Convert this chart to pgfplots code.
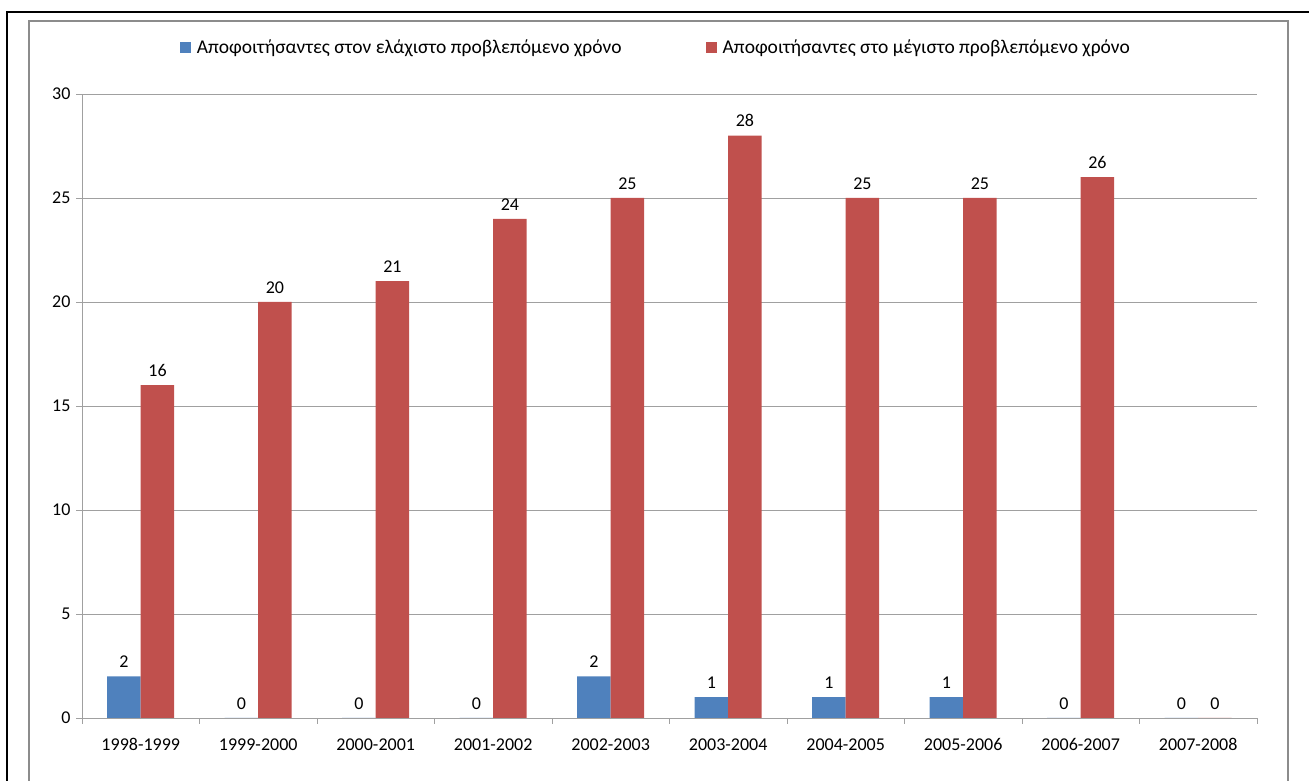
\documentclass[border=0pt]{standalone}
\usepackage{pgfplots}
\pgfplotsset{compat=1.18}
\usepackage{fontspec}
\setmainfont{Carlito}
\definecolor{cblue}{HTML}{4F81BD}
\definecolor{cred}{HTML}{C0504D}
\definecolor{cgrid}{HTML}{A0A0A0}
\definecolor{cframe}{HTML}{8C8C8C}
\begin{document}
\begin{tikzpicture}[font=\fontsize{17.5pt}{21pt}\selectfont]
\path[use as bounding box] (0,0) rectangle (1309pt,781pt);
% outer borders
\draw[black,line width=2.5pt] (7pt,-5pt) -- (7pt,769pt) -- (1315pt,769pt);
\draw[cframe,line width=1.2pt] (29pt,-5pt) -- (29pt,760pt) -- (1288pt,760pt) -- (1288pt,-5pt);
\begin{axis}[
  at={(82pt,63pt)}, anchor=south west,
  scale only axis, width=1175pt, height=624pt,
  ybar=0pt, bar width=33.5pt,
  xmin=-0.5, xmax=9.5, ymin=0, ymax=30,
  ytick={0,5,...,30},
  xtick={0,...,9},
  xticklabels={1998-1999,1999-2000,2000-2001,2001-2002,2002-2003,2003-2004,2004-2005,2005-2006,2006-2007,2007-2008},
  minor xtick={-0.5,0.5,...,9.5},
  major x tick style={draw=none},
  minor x tick style={cgrid, line width=0.8pt},
  tick align=outside,
  minor tick length=6pt, major tick length=6pt,
  y tick style={cgrid, line width=0.8pt},
  ymajorgrids, grid style={cgrid, line width=0.8pt},
  axis x line*=bottom, axis y line*=left,
  axis line style={cgrid, line width=0.8pt, -},
  /pgf/number format/assume math mode=true,
  xticklabel style={yshift=-11pt, font=\fontsize{18pt}{21pt}\selectfont},
  yticklabel style={xshift=-2pt, font=\fontsize{18pt}{21pt}\selectfont},
  nodes near coords,
  nodes near coords style={font=\fontsize{18pt}{21pt}\selectfont, yshift=5pt},
  legend columns=2,
  legend style={draw=none, fill=none, at={(0.4885,1.0753)}, anchor=center,
    font=\fontsize{19.5pt}{23pt}\selectfont,
    /tikz/every odd column/.append style={column sep=4pt},
    /tikz/every even column/.append style={column sep=82pt}},
  legend cell align=left,
]
\addplot[fill=cblue, draw=none,
  legend image code/.code={\fill[cblue] (0pt,-5.5pt) rectangle (11pt,5.5pt);}]
  coordinates {(0,2) (1,0) (2,0) (3,0) (4,2) (5,1) (6,1) (7,1) (8,0) (9,0)};
\addplot[fill=cred, draw=none,
  legend image code/.code={\fill[cred] (0pt,-5.5pt) rectangle (11pt,5.5pt);}]
  coordinates {(0,16) (1,20) (2,21) (3,24) (4,25) (5,28) (6,25) (7,25) (8,26) (9,0)};
\legend{Αποφοιτήσαντες στον ελάχιστο προβλεπόμενο χρόνο, Αποφοιτήσαντες στο μέγιστο προβλεπόμενο χρόνο}
\end{axis}
\end{tikzpicture}
\end{document}
